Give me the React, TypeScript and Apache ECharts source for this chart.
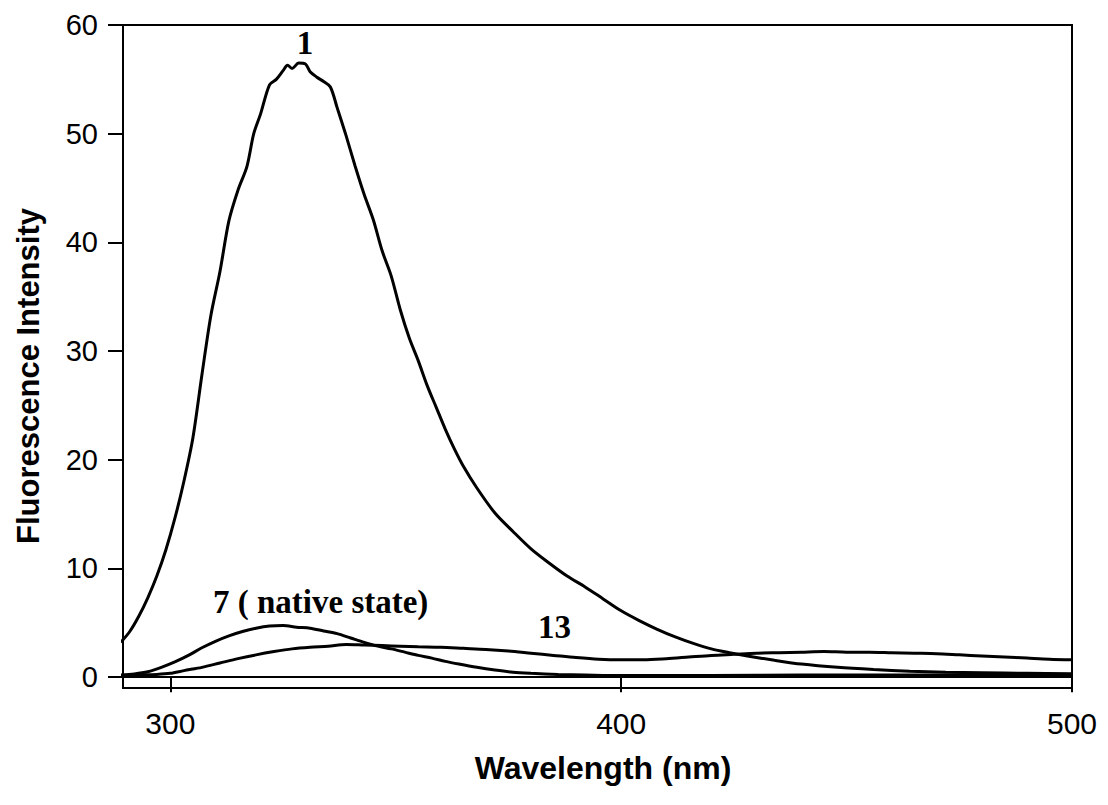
import React, { useEffect, useRef } from "react";
import * as echarts from "echarts";

// Curve 1
const wl1 = [289, 291, 293, 295, 297, 299, 301, 303, 305, 307, 309, 311, 313, 315, 317, 318.5, 320, 322, 323.5, 325, 326, 327, 328.5, 330, 331, 332.5, 334, 335.5, 337, 339, 341, 343, 345, 347, 349, 351, 353, 355, 357, 359, 361, 363, 365, 368, 372, 376, 380, 384, 388, 392, 396, 400, 404, 408, 412, 416, 420, 424, 428, 434, 440, 448, 456, 464, 472, 480, 490, 500];
const int1 = [3.2, 4.2, 5.6, 7.3, 9.3, 11.7, 14.6, 18.0, 22.0, 27.8, 33.3, 37.3, 42.0, 44.8, 47.0, 50.0, 51.8, 54.5, 55.0, 55.8, 56.3, 56.0, 56.5, 56.4, 55.7, 55.2, 54.8, 54.3, 52.4, 49.8, 47.0, 44.4, 42.1, 39.2, 36.9, 33.8, 31.2, 29.1, 26.8, 24.8, 22.8, 21.0, 19.4, 17.4, 15.1, 13.4, 11.8, 10.5, 9.3, 8.3, 7.2, 6.1, 5.2, 4.4, 3.7, 3.1, 2.6, 2.25, 1.95, 1.55, 1.2, 0.9, 0.7, 0.55, 0.45, 0.4, 0.35, 0.3];

// Curve 7 (native state)
const wl7 = [289, 292, 295, 298, 301, 304, 307, 310, 313, 316, 319, 322, 325, 328, 331, 334, 337, 340, 343, 346, 349, 352, 355, 358, 361, 364, 368, 372, 376, 380, 386, 392, 400, 420, 440, 460, 480, 500];
const int7 = [0.2, 0.3, 0.5, 0.9, 1.4, 2.0, 2.7, 3.3, 3.8, 4.2, 4.5, 4.7, 4.75, 4.6, 4.5, 4.25, 4.0, 3.6, 3.2, 2.85, 2.6, 2.3, 2.0, 1.75, 1.45, 1.2, 0.9, 0.65, 0.45, 0.35, 0.25, 0.2, 0.15, 0.15, 0.2, 0.2, 0.2, 0.2];

// Curve 13
const wl13 = [289, 293, 297, 300, 303, 307, 311, 315, 319, 323, 327, 331, 335, 339, 343, 347, 351, 355, 360, 365, 370, 375, 380, 385, 390, 395, 400, 405, 410, 415, 420, 425, 430, 435, 440, 445, 450, 455, 460, 465, 470, 475, 480, 485, 490, 495, 500];
const int13 = [0.15, 0.2, 0.25, 0.35, 0.6, 0.9, 1.3, 1.7, 2.05, 2.35, 2.6, 2.75, 2.85, 3.0, 2.95, 2.9, 2.85, 2.8, 2.75, 2.65, 2.55, 2.4, 2.2, 2.0, 1.8, 1.65, 1.6, 1.6, 1.7, 1.85, 2.0, 2.1, 2.2, 2.25, 2.3, 2.35, 2.3, 2.3, 2.25, 2.2, 2.15, 2.05, 1.95, 1.85, 1.75, 1.65, 1.6];

const xTicks = [300, 400, 500];
const yTicks = [0, 10, 20, 30, 40, 50, 60];

const xTitle = "Wavelength (nm)";
const yTitle = "Fluorescence Intensity";
const labels = { c1: "1", c7: "7 ( native state)", c13: "13" };

const pair = (xs: number[], ys: number[]) => xs.map((x, i) => [x, ys[i]]);

export default function App() {
  const ref = useRef<HTMLDivElement>(null);
  useEffect(() => {
    if (!ref.current) return;
    const chart = echarts.init(ref.current, undefined, { renderer: "svg" });
    const lineStyle = { color: "#000", width: 3 };
    const mkSeries = (name: string, data: number[][]) => ({
      name,
      type: "line",
      data,
      showSymbol: false,
      symbol: "none",
      smooth: 0.3,
      lineStyle,
      itemStyle: { color: "#000" },
    });
    const txt = (text: string, x: number, y: number, font: string, align: string, rotation = 0) => ({
      type: "text",
      x,
      y,
      rotation,
      style: {
        text,
        font,
        fill: "#000",
        textAlign: align,
        textVerticalAlign: "middle",
        align,
        verticalAlign: "middle",
      },
    });
    chart.setOption({
      animation: false,
      backgroundColor: "#fff",
      grid: {
        left: 123,
        right: 36,
        top: 25,
        bottom: 117,
        show: true,
        borderColor: "#000",
        borderWidth: 2,
        backgroundColor: "transparent",
      },
      xAxis: {
        type: "value",
        min: 289.5,
        max: 500,
        axisLine: { show: true, lineStyle: { color: "#000", width: 2 } },
        axisTick: { show: true, length: 15, lineStyle: { color: "#000", width: 2 }, customValues: xTicks },
        axisLabel: {
          customValues: xTicks,
          color: "#000",
          fontFamily: "Liberation Sans",
          fontSize: 30,
          margin: 20,
        },
        splitLine: { show: false },
      },
      yAxis: {
        type: "value",
        min: -1,
        max: 60,
        axisLine: { show: true, lineStyle: { color: "#000", width: 2 } },
        axisTick: { show: true, length: 15, lineStyle: { color: "#000", width: 2 }, customValues: yTicks },
        axisLabel: {
          customValues: yTicks,
          color: "#000",
          fontFamily: "Liberation Sans",
          fontSize: 29,
          margin: 25,
        },
        splitLine: { show: false },
      },
      series: [
        mkSeries("1", pair(wl1, int1)),
        mkSeries("7", pair(wl7, int7)),
        mkSeries("13", pair(wl13, int13)),
      ],
      graphic: [
        txt(xTitle, 603, 768, 'bold 32px "Liberation Sans"', "center"),
        txt(yTitle, 28, 376, 'bold 31px "Liberation Sans"', "center", Math.PI / 2),
        txt(labels.c1, 305, 43, 'bold 33px "Liberation Serif"', "center"),
        txt(labels.c7, 213, 602, 'bold 33px "Liberation Serif"', "left"),
        txt(labels.c13, 538, 627, 'bold 33px "Liberation Serif"', "left"),
      ],
    });
    return () => chart.dispose();
  }, []);
  return <div ref={ref} style={{ width: 1108, height: 805, position: "absolute", left: 0, top: 0 }} />;
}
